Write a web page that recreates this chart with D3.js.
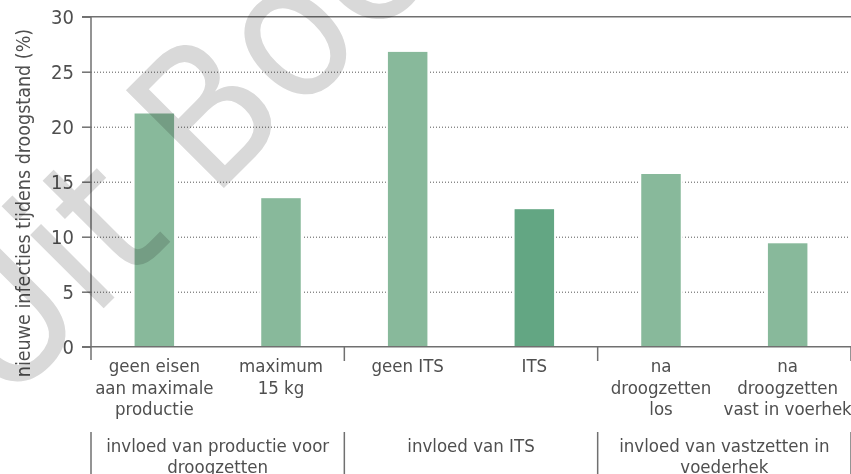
<!DOCTYPE html>
<html>
<head>
<meta charset="utf-8">
<script src="https://cdn.jsdelivr.net/npm/d3@7"></script>
<style>
  html, body { margin: 0; padding: 0; background: #fff; }
  svg { display: block; }
  text { font-family: "DejaVu Sans Condensed", "DejaVu Sans", sans-serif; fill: #4f4f4f; }
</style>
</head>
<body>
<div id="chart"></div>
<script>
// values
const categoryLines = [
  ["geen eisen", "aan maximale", "productie"],
  ["maximum", "15 kg"],
  ["geen ITS"],
  ["ITS"],
  ["na", "droogzetten", "los"],
  ["na", "droogzetten", "vast in voerhek"]
];
const values = [21.2, 13.5, 26.8, 12.5, 15.7, 9.4];
const highlighted = [false, false, false, true, false, false];
const groupLines = [
  ["invloed van productie voor", "droogzetten"],
  ["invloed van ITS"],
  ["invloed van vastzetten in", "voederhek"]
];
const groupSpans = [[0, 1], [2, 3], [4, 5]];
const yTicks = [0, 5, 10, 15, 20, 25, 30];
const yTitle = "nieuwe infecties tijdens droogstand (%)";

const width = 851, height = 474;
const plotLeft = 91, plotRight = 851, plotTop = 16.7, plotBottom = 346.7;
const lineColor = "#707070";

const svg = d3.select("#chart").append("svg")
  .attr("width", width)
  .attr("height", height);

const x = d3.scaleBand().domain(d3.range(values.length)).range([plotLeft, plotRight]);
const y = d3.scaleLinear().domain([0, 30]).range([plotBottom, plotTop]);
const barW = 39.5;

// dotted gridlines
svg.append("g")
  .attr("transform", `translate(${plotLeft},0)`)
  .call(d3.axisLeft(y).tickValues(yTicks.filter(d => d > 0 && d < 30)).tickSize(-(plotRight - 3 - plotLeft)).tickFormat(""))
  .call(g => g.select(".domain").remove())
  .call(g => g.selectAll("line").attr("stroke", "#555").attr("stroke-dasharray", "1,2"));

// top line
svg.append("line")
  .attr("x1", plotLeft - 9).attr("x2", plotRight)
  .attr("y1", y(30)).attr("y2", y(30))
  .attr("stroke", lineColor).attr("stroke-width", 1.5);

// y axis ticks and labels
svg.append("g")
  .attr("transform", `translate(${plotLeft},0)`)
  .call(d3.axisLeft(y).tickValues(yTicks).tickSize(9).tickPadding(8))
  .call(g => g.select(".domain").remove())
  .call(g => g.selectAll("line").attr("stroke", lineColor).attr("stroke-width", 1.5))
  .call(g => g.selectAll("text").attr("font-size", 20).attr("fill", "#4f4f4f")
    .attr("font-family", '"DejaVu Sans Condensed", "DejaVu Sans", sans-serif'));

// white gaps around bars, then bars
const cx = i => x(i) + x.bandwidth() / 2;
svg.append("g").selectAll("rect")
  .data(values)
  .join("rect")
  .attr("x", (d, i) => cx(i) - barW / 2 - 2)
  .attr("width", barW + 4)
  .attr("y", d => y(d))
  .attr("height", d => plotBottom - y(d))
  .attr("fill", "#fff");

svg.append("g").selectAll("rect")
  .data(values)
  .join("rect")
  .attr("x", (d, i) => cx(i) - barW / 2)
  .attr("width", barW)
  .attr("y", d => y(d))
  .attr("height", d => plotBottom - y(d))
  .attr("fill", (d, i) => highlighted[i] ? "#63a683" : "#88b99b");

// axes lines
svg.append("line")
  .attr("x1", plotLeft).attr("x2", plotLeft)
  .attr("y1", plotTop).attr("y2", 360)
  .attr("stroke", lineColor).attr("stroke-width", 1.5);
svg.append("line")
  .attr("x1", plotLeft - 9).attr("x2", plotRight)
  .attr("y1", plotBottom).attr("y2", plotBottom)
  .attr("stroke", lineColor).attr("stroke-width", 1.5);

// group separators
const bounds = [x(0), x(2), x(4), plotRight];
svg.append("g").selectAll("line")
  .data(bounds.slice(1))
  .join("line")
  .attr("x1", d => d).attr("x2", d => d)
  .attr("y1", plotBottom).attr("y2", 361)
  .attr("stroke", lineColor).attr("stroke-width", 1.5);
svg.append("g").selectAll("line")
  .data(bounds)
  .join("line")
  .attr("x1", d => d).attr("x2", d => d)
  .attr("y1", 432).attr("y2", height)
  .attr("stroke", lineColor).attr("stroke-width", 1.5);

// category labels
const cat = svg.append("g").selectAll("text")
  .data(categoryLines)
  .join("text")
  .attr("text-anchor", "middle")
  .attr("font-size", 18.5);
cat.selectAll("tspan")
  .data((d, i) => d.map(t => ({ t, i })))
  .join("tspan")
  .attr("x", d => cx(d.i))
  .attr("y", (d, j) => 372 + j * 21.5)
  .text(d => d.t);

// group labels
const grp = svg.append("g").selectAll("text")
  .data(groupLines)
  .join("text")
  .attr("text-anchor", "middle")
  .attr("font-size", 18.5);
grp.selectAll("tspan")
  .data((d, i) => d.map(t => ({ t, i })))
  .join("tspan")
  .attr("x", d => (x(groupSpans[d.i][0]) + x(groupSpans[d.i][1]) + x.bandwidth()) / 2)
  .attr("y", (d, j) => 452 + j * 20.5)
  .text(d => d.t);

// y title
svg.append("text")
  .attr("transform", "translate(30,203) rotate(-90)")
  .attr("text-anchor", "middle")
  .attr("font-size", 19.5)
  .text(yTitle);

// watermark
const wm = svg.append("g")
  .attr("transform", "translate(212,200) rotate(-45)")
  .style("mix-blend-mode", "multiply");
wm.append("text").attr("x", 0).attr("y", 0)
  .attr("font-family", '"DejaVu Sans", sans-serif')
  .attr("font-size", 190).style("fill", "#d9d9d9")
  .text("Boek");
wm.append("text").attr("x", -55).attr("y", 0)
  .attr("text-anchor", "end")
  .attr("font-family", '"DejaVu Sans", sans-serif')
  .attr("font-size", 190).style("fill", "#d9d9d9")
  .text("Uit");
</script>
</body>
</html>
